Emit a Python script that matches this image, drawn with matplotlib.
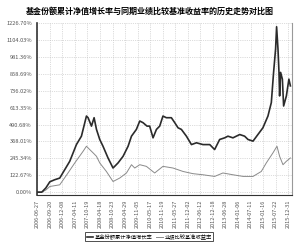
import matplotlib
matplotlib.use('Agg')
import matplotlib.pyplot as plt

plt.rcParams['font.family'] = ['Noto Sans CJK SC', 'DejaVu Sans']

# x positions are in tick-interval units (0 = first date label)
fund_x = [0.00, 0.36, 0.68, 1.00, 1.39, 1.79, 2.59, 3.12, 3.52, 3.92, 4.05, 4.32, 4.53,
          4.72, 4.98, 5.24, 5.64, 6.04, 6.44, 6.84, 7.24, 7.51, 7.90, 8.17, 8.43, 8.75,
          8.96, 9.23, 9.50, 9.76, 10.02, 10.29, 10.69, 10.96, 11.22, 11.49, 11.89, 12.29,
          12.69, 13.21, 13.75, 14.14, 14.54, 14.94, 15.20, 15.60, 16.14, 16.53, 16.80,
          17.20, 17.59, 17.99, 18.39, 18.66, 18.84, 19.00, 19.08, 19.19, 19.27, 19.32,
          19.40, 19.54, 19.64, 19.86, 20.06, 20.18]
fund_y = [0, 0, 30, 75, 90, 102, 224, 345, 406, 552, 540, 479, 540,
          455, 382, 333, 248, 175, 212, 260, 333, 406, 455, 516, 504, 479,
          479, 394, 455, 479, 552, 540, 540, 504, 467, 455, 406, 345,
          358, 345, 345, 309, 382, 394, 406, 394, 418, 406, 382,
          370, 418, 467, 552, 650, 869, 1039, 1200, 1039, 869, 698,
          869, 820, 625, 698, 820, 771]

bench_x = [0.00, 0.36, 0.68, 1.00, 1.79, 2.45, 2.99, 3.65, 3.92, 4.18, 4.45, 4.72, 4.98,
           5.51, 6.04, 6.57, 7.11, 7.51, 7.77, 8.17, 8.70, 9.36, 10.02, 10.82, 11.62,
           12.41, 13.21, 14.14, 14.80, 15.60, 16.41, 17.20, 17.86, 18.26, 18.79, 19.11,
           19.32, 19.59, 19.86, 20.18]
bench_y = [0, 0, 15, 41, 53, 139, 212, 296, 333, 309, 285, 260, 212,
           150, 77, 102, 139, 199, 175, 199, 187, 139, 187, 175, 150,
           134, 126, 114, 139, 126, 114, 114, 150, 212, 285, 333,
           260, 199, 224, 248]

date_labels = ['2006-06-27', '2006-09-20', '2006-12-08', '2007-04-11', '2007-10-19',
               '2008-04-18', '2008-10-23', '2009-04-29', '2009-11-05', '2010-05-17',
               '2010-11-19', '2011-05-27', '2011-12-02', '2012-06-12', '2012-12-18',
               '2013-06-28', '2014-01-06', '2014-07-11', '2015-01-16', '2015-07-22',
               '2015-12-31']
y_ticks = [0.00, 122.67, 245.34, 368.01, 490.68, 613.35, 736.02, 858.69, 981.36,
           1104.03, 1226.70]

fig = plt.figure(figsize=(3.0, 2.43), dpi=100)
ax = fig.add_axes([0.123, 0.198, 0.850, 0.707])

ax.plot(bench_x, bench_y, color='#8a8a8a', lw=0.7, label='业绩比较基准收益率')
ax.plot(fund_x, fund_y, color='#2b2b2b', lw=1.2, label='基金份额累计净值增长率')

ax.set_xlim(-0.03, 20.3)
ax.set_ylim(-20, 1226.7)
ax.set_xticks(range(len(date_labels)))
ax.set_xticklabels(date_labels, rotation=90, fontsize=4, color='#555555')
ax.set_yticks(y_ticks)
ax.set_yticklabels(['%.2f%%' % v for v in y_ticks], fontsize=4.1, color='#555555')
ax.tick_params(length=0, pad=3.5)
ax.grid(True, color='#bbbbbb', lw=0.5, ls=':')

ax.spines['top'].set_visible(False)
ax.spines['right'].set_color('#999999')
ax.spines['right'].set_linewidth(0.8)
ax.spines['left'].set_color('#333333')
ax.spines['left'].set_linewidth(1.2)
ax.spines['bottom'].set_color('#333333')
ax.spines['bottom'].set_linewidth(0.8)

fig.text(0.5, 0.955, '基金份额累计净值增长率与同期业绩比较基准收益率的历史走势对比图',
         ha='center', va='center', fontsize=5.8, fontweight='bold')

h, l = ax.get_legend_handles_labels()
leg = fig.legend(h[::-1], l[::-1], loc='center', bbox_to_anchor=(0.497, 0.025), ncol=2,
                 fontsize=3.8, frameon=True, fancybox=False, edgecolor='black',
                 handlelength=1.2, handletextpad=0.3, columnspacing=0.8,
                 borderpad=0.3)
leg.get_frame().set_linewidth(0.6)

plt.savefig('out.png', dpi=100)
